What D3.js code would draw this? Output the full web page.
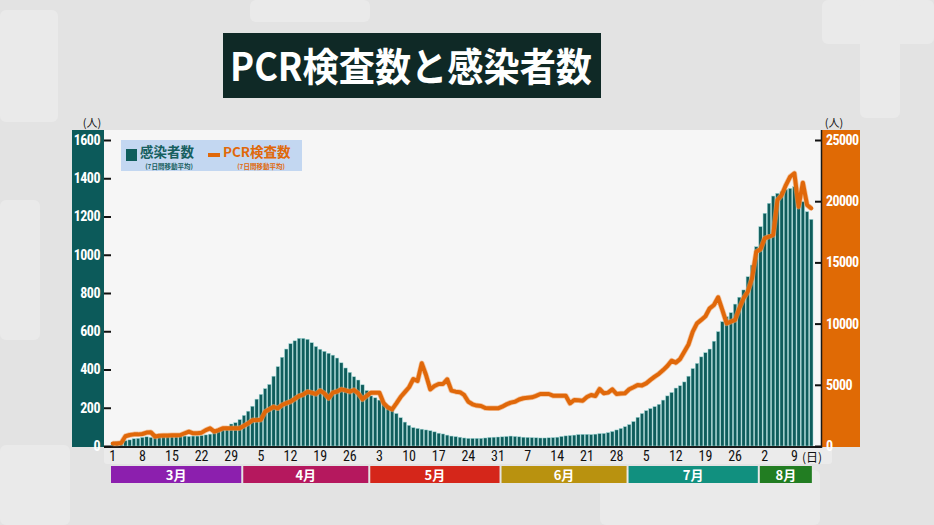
<!DOCTYPE html>
<html><head><meta charset="utf-8">
<script src="https://cdn.jsdelivr.net/npm/d3@7/dist/d3.min.js"></script>
<style>
html,body{margin:0;padding:0;background:#e3e3e3;overflow:hidden}
svg{display:block}
</style></head>
<body>
<svg id="c" width="934" height="525"></svg>
<script>
// ---------- DATA ----------
const startDate = new Date(2021, 2, 1);
const infections = [
 20,22,25,28,32,38,40,45,48,45,
 46,47,48,50,50,50,52,52,50,52,
 52,55,58,62,68,75,85,100,115,122,
 138,160,182,208,245,270,300,322,365,415,
 464,507,535,550,563,563,558,540,520,506,
 495,485,475,460,435,408,385,362,345,320,
 290,262,252,240,228,210,192,170,148,125,
 108,96,92,88,84,80,74,67,63,57,
 52,49,46,42,40,40,40,40,42,45,
 46,47,48,50,52,50,48,46,45,44,
 43,42,42,43,44,46,50,53,55,57,
 60,61,61,60,62,65,66,70,76,84,
 92,101,112,128,150,170,185,196,206,218,
 240,262,280,303,315,335,365,405,432,466,
 488,507,548,598,650,676,697,742,778,816,
 885,946,1042,1147,1217,1269,1307,1321,1330,1342,
 1347,1356,1321,1278,1225,1185
];
const pcrTests = [
 200,200,250,800,900,950,950,980,1100,1120,
 780,840,850,850,870,880,900,1040,1170,1040,
 1050,1090,1300,1440,1180,1300,1440,1440,1450,1450,
 1460,1650,1850,2100,2120,2150,2800,3000,3200,3080,
 3350,3500,3620,3850,4085,4200,4440,4350,4250,4520,
 4300,3900,4360,4450,4630,4550,4440,4575,4300,3815,
 4100,4360,4360,4350,3500,3150,2996,3485,4000,4400,
 4800,5474,5310,6756,5800,4630,4900,5065,5065,5450,
 4520,4440,4400,4170,3620,3405,3300,3268,3100,3077,
 3077,3077,3213,3400,3540,3620,3800,3900,3950,3980,
 4100,4250,4250,4250,4110,4110,4110,4110,3485,3760,
 3730,3700,4000,4170,4085,4656,4305,4360,4630,4250,
 4280,4305,4630,4800,4985,4950,5120,5400,5660,5900,
 6200,6535,6970,6810,7100,7700,8300,9340,10020,10300,
 10600,11250,11520,12150,11110,10020,10160,10300,11250,12070,
 12610,13700,15880,16070,16970,17100,17240,20100,20500,21320,
 22000,22280,19550,21510,19690,19420
];
const dates = infections.map((_, i) => d3.timeDay.offset(startDate, i));
const xTickLabels = ["1","8","15","22","29","5","12","19","26","3","10","17","24","31","7","14","21","28","5","12","19","26","2","9"];
const leftTicks = [0,200,400,600,800,1000,1200,1400,1600];
const rightTicks = [0,5000,10000,15000,20000,25000];
const months = ["3月","4月","5月","6月","7月","8月"];
const monthColors = ["#8c1fae","#b5185e","#d5261a","#b9920f","#11907f","#227d22"];
const titleText = "PCR検査数と感染者数";
const legendInf = "感染者数", legendPcr = "PCR検査数", legendSub = "(7日間移動平均)";

// ---------- DRAW ----------
const svg = d3.select("#c");
const narrow = "'Liberation Sans Narrow','Roboto Condensed','Arial Narrow','Roboto',sans-serif";
const jp = "'Noto Sans CJK JP','Noto Sans',sans-serif";

// decorative background crosses
const deco = svg.append("g").attr("fill","#eaeaea");
[[822,0,112,44],[860,0,40,118],[0,10,58,112],[0,445,70,80],[250,0,120,22],[600,470,220,55],[0,200,40,140]]
 .forEach(r=>deco.append("rect").attr("x",r[0]).attr("y",r[1]).attr("width",r[2]).attr("height",r[3]).attr("rx",6));

const x = d3.scaleBand().domain(dates).range([111, 813]).paddingInner(0.2).paddingOuter(0);
const step = x.step();
const yL = d3.scaleLinear().domain([0,1600]).range([446,140]);
const yR = d3.scaleLinear().domain([0,25000]).range([446,140]);

// plot panel
svg.append("rect").attr("x",104).attr("y",130).attr("width",718).attr("height",317).attr("fill","#f6f6f6");
// label row
svg.append("rect").attr("x",104).attr("y",447).attr("width",728).attr("height",17).attr("rx",3).attr("fill","#ebebeb");

// left axis band
svg.append("rect").attr("x",72).attr("y",130).attr("width",32).attr("height",317).attr("fill","#0c5a5a");
// right axis band
svg.append("rect").attr("x",822).attr("y",130).attr("width",38).attr("height",317).attr("fill","#e06a05");

// bars
svg.append("g").selectAll("rect").data(infections).join("rect")
  .attr("x",(d,i)=>x(dates[i]))
  .attr("y",d=>yL(d))
  .attr("width",x.bandwidth())
  .attr("height",d=>yL(0)-yL(d))
  .attr("fill","#0f5d5c")
  .attr("stroke","#9fd8d6").attr("stroke-width",0.5);

// baseline
svg.append("line").attr("x1",104).attr("x2",822).attr("y1",447).attr("y2",447).attr("stroke","#1a1a1a").attr("stroke-width",2);
// right black line
svg.append("line").attr("x1",821.5).attr("x2",821.5).attr("y1",130).attr("y2",448).attr("stroke","#1a1a1a").attr("stroke-width",1.5);

// PCR line
const line = d3.line().x((d,i)=>x(dates[i])+x.bandwidth()/2).y(d=>yR(d)).curve(d3.curveLinear);
svg.append("path").datum(pcrTests).attr("d",line).attr("fill","none")
  .attr("stroke","#f0a060").attr("stroke-width",5.5).attr("stroke-linejoin","round").attr("opacity",0.6);
svg.append("path").datum(pcrTests).attr("d",line).attr("fill","none")
  .attr("stroke","#e0680a").attr("stroke-width",4).attr("stroke-linejoin","round").attr("stroke-linecap","round");

// left axis
const gL = svg.append("g").attr("transform","translate(111,0)")
  .call(d3.axisLeft(yL).tickValues(leftTicks).tickSize(7).tickPadding(4).tickFormat(d3.format("d")));
gL.select(".domain").remove();
gL.selectAll(".tick line").attr("stroke","#111").attr("stroke-width",2);
gL.selectAll(".tick text").attr("fill","#fff").style("font-family",narrow).style("font-size","14px").style("font-weight","bold").style("letter-spacing","-0.5px");

// right axis
const gR = svg.append("g").attr("transform","translate(821,0)")
  .call(d3.axisRight(yR).tickValues(rightTicks).tickSize(-6).tickPadding(5).tickFormat(d3.format("d")));
gR.select(".domain").remove();
gR.selectAll(".tick line").attr("stroke","#111").attr("stroke-width",2);
gR.selectAll(".tick text").attr("fill","#fff").style("font-family",narrow).style("font-size","14px").style("font-weight","bold").style("letter-spacing","-0.6px");

// unit labels
svg.append("text").attr("x",92).attr("y",127).attr("text-anchor","middle").text("(人)")
  .style("font-family",jp).style("font-size","11px").attr("fill","#111");
svg.append("text").attr("x",834).attr("y",127).attr("text-anchor","middle").text("(人)")
  .style("font-family",jp).style("font-size","11px").attr("fill","#111");

// x axis
const tickDates = dates.filter((d,i)=>i%7===0);
const gX = svg.append("g").attr("transform","translate(0,448)")
  .call(d3.axisBottom(x).tickValues(tickDates).tickSize(0).tickPadding(3)
    .tickFormat((d,i)=>xTickLabels[i]));
gX.select(".domain").remove();
gX.selectAll(".tick text").attr("fill","#111").style("font-family",narrow).style("font-size","14px");
svg.append("text").attr("x",812).attr("y",462).attr("text-anchor","middle").text("(日)")
  .style("font-family",jp).style("font-size","12px").attr("fill","#111");

// month bands
const monthStarts = months.map((m,i)=>d3.timeMonth.offset(startDate,i));
monthStarts.forEach((ms,i)=>{
  const si = d3.timeDay.count(startDate, ms);
  const next = d3.timeMonth.offset(ms,1);
  const ei = Math.min(d3.timeDay.count(startDate,next), dates.length);
  const x0 = 111 + si*step + (i>0?1:0);
  const x1 = 111 + ei*step - (i<months.length-1?1:2);
  svg.append("rect").attr("x",x0).attr("y",466).attr("width",x1-x0).attr("height",17).attr("fill",monthColors[i]);
  svg.append("text").attr("x",(x0+x1)/2).attr("y",479.5).attr("text-anchor","middle").text(months[i])
    .style("font-family",jp).style("font-size","13px").style("font-weight","bold").attr("fill","#fff");
});

// legend
const lg = svg.append("g");
lg.append("rect").attr("x",121).attr("y",140).attr("width",181).attr("height",31).attr("fill","#c3d7f1");
lg.append("rect").attr("x",126).attr("y",149).attr("width",11).attr("height",12).attr("fill","#0f5d5c");
lg.append("text").attr("x",140).attr("y",157).text(legendInf)
  .style("font-family",jp).style("font-size","13.5px").style("font-weight","bold").attr("fill","#17605f");
lg.append("text").attr("x",169).attr("y",168.5).attr("text-anchor","middle").text(legendSub)
  .style("font-family",jp).style("font-size","6.5px").style("font-weight","bold").attr("fill","#17605f");
lg.append("rect").attr("x",208).attr("y",153).attr("width",12).attr("height",4).attr("fill","#e0680a");
lg.append("text").attr("x",223).attr("y",157).text(legendPcr)
  .style("font-family",jp).style("font-size","13.5px").style("font-weight","bold").attr("fill","#e0680a");
lg.append("text").attr("x",261).attr("y",168.5).attr("text-anchor","middle").text(legendSub)
  .style("font-family",jp).style("font-size","6.5px").style("font-weight","bold").attr("fill","#e0680a");

// title
svg.append("rect").attr("x",223).attr("y",33).attr("width",378).attr("height",65).attr("fill","#0f2926");
svg.append("text").attr("x",230).attr("y",81).attr("textLength",362).attr("lengthAdjust","spacingAndGlyphs").text(titleText)
  .style("font-family",jp).style("font-size","39px").style("font-weight","bold").attr("fill","#fff");
</script>
</body></html>
